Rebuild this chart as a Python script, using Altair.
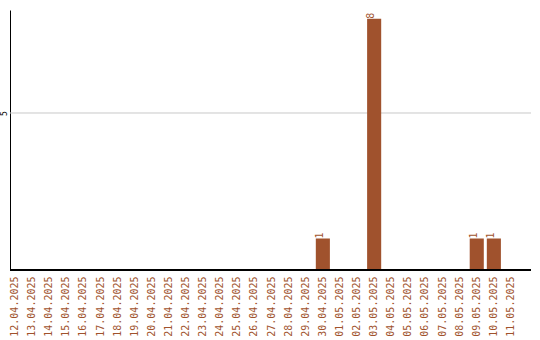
import altair as alt
import pandas as pd

# Daily counts, 12.04.2025 - 11.05.2025
dates = [
    "12.04.2025", "13.04.2025", "14.04.2025", "15.04.2025", "16.04.2025",
    "17.04.2025", "18.04.2025", "19.04.2025", "20.04.2025", "21.04.2025",
    "22.04.2025", "23.04.2025", "24.04.2025", "25.04.2025", "26.04.2025",
    "27.04.2025", "28.04.2025", "29.04.2025", "30.04.2025", "01.05.2025",
    "02.05.2025", "03.05.2025", "04.05.2025", "05.05.2025", "06.05.2025",
    "07.05.2025", "08.05.2025", "09.05.2025", "10.05.2025", "11.05.2025",
]
counts = [
    0, 0, 0, 0, 0,
    0, 0, 0, 0, 0,
    0, 0, 0, 0, 0,
    0, 0, 0, 1, 0,
    0, 8, 0, 0, 0,
    0, 0, 1, 1, 0,
]
grid_values = [5]

df = pd.DataFrame({"date": dates, "count": counts})
grid_df = pd.DataFrame({"count": grid_values})

BROWN = "#a0522d"
FONT = "DejaVu Sans Mono"
W, H = 521, 260

x_scale = alt.Scale(domain=dates, range=[-2, 508], paddingInner=3 / 17, paddingOuter=0)
y_scale = alt.Scale(domain=[0, 8.28], nice=False, zero=True)

x_axis = alt.Axis(
    title=None,
    domain=False,
    ticks=False,
    labelAngle=270,
    labelFont=FONT,
    labelFontSize=10,
    labelColor=BROWN,
    labelPadding=6,
    grid=False,
)
y_axis = alt.Axis(
    title=None,
    values=grid_values,
    ticks=False,
    grid=False,
    domainColor="#000000",
    domainWidth=1,
    labelAngle=270,
    labelAlign="center",
    labelBaseline="bottom",
    labelFont=FONT,
    labelFontSize=8,
    labelColor="#000000",
    labelPadding=2,
)

x_enc = alt.X("date:N", sort=dates, scale=x_scale, axis=x_axis)
y_enc = alt.Y("count:Q", scale=y_scale, axis=y_axis)

base = alt.Chart(df)

# horizontal guide line across the full plot width
grid = alt.Chart(grid_df).mark_rule(color="#c8c8c8", strokeWidth=1).encode(
    y=y_enc, x=alt.value(0), x2=alt.value(W)
)

bars = base.mark_bar(color=BROWN).encode(x=x_enc, y=y_enc)

labels = base.transform_filter("datum.count > 0").mark_text(
    angle=270, align="left", baseline="middle", dy=-3,
    font=FONT, fontSize=10, color=BROWN,
).encode(x=x_enc, y=y_enc, text="count:Q")

x_line = base.mark_rule(color="#000000", strokeWidth=1.5).encode(
    x=alt.value(0), x2=alt.value(W), y=alt.value(H)
)

chart = (
    alt.layer(grid, bars, labels, x_line)
    .properties(
        width=W,
        height=H,
        background="#ffffff",
        padding={"left": 10, "top": 10, "right": 9, "bottom": 70},
        autosize=alt.AutoSizeParams(type="none"),
    )
    .configure_view(stroke=None, strokeWidth=0)
)

chart.save("out.html", embed_options={"renderer": "svg", "actions": False})
